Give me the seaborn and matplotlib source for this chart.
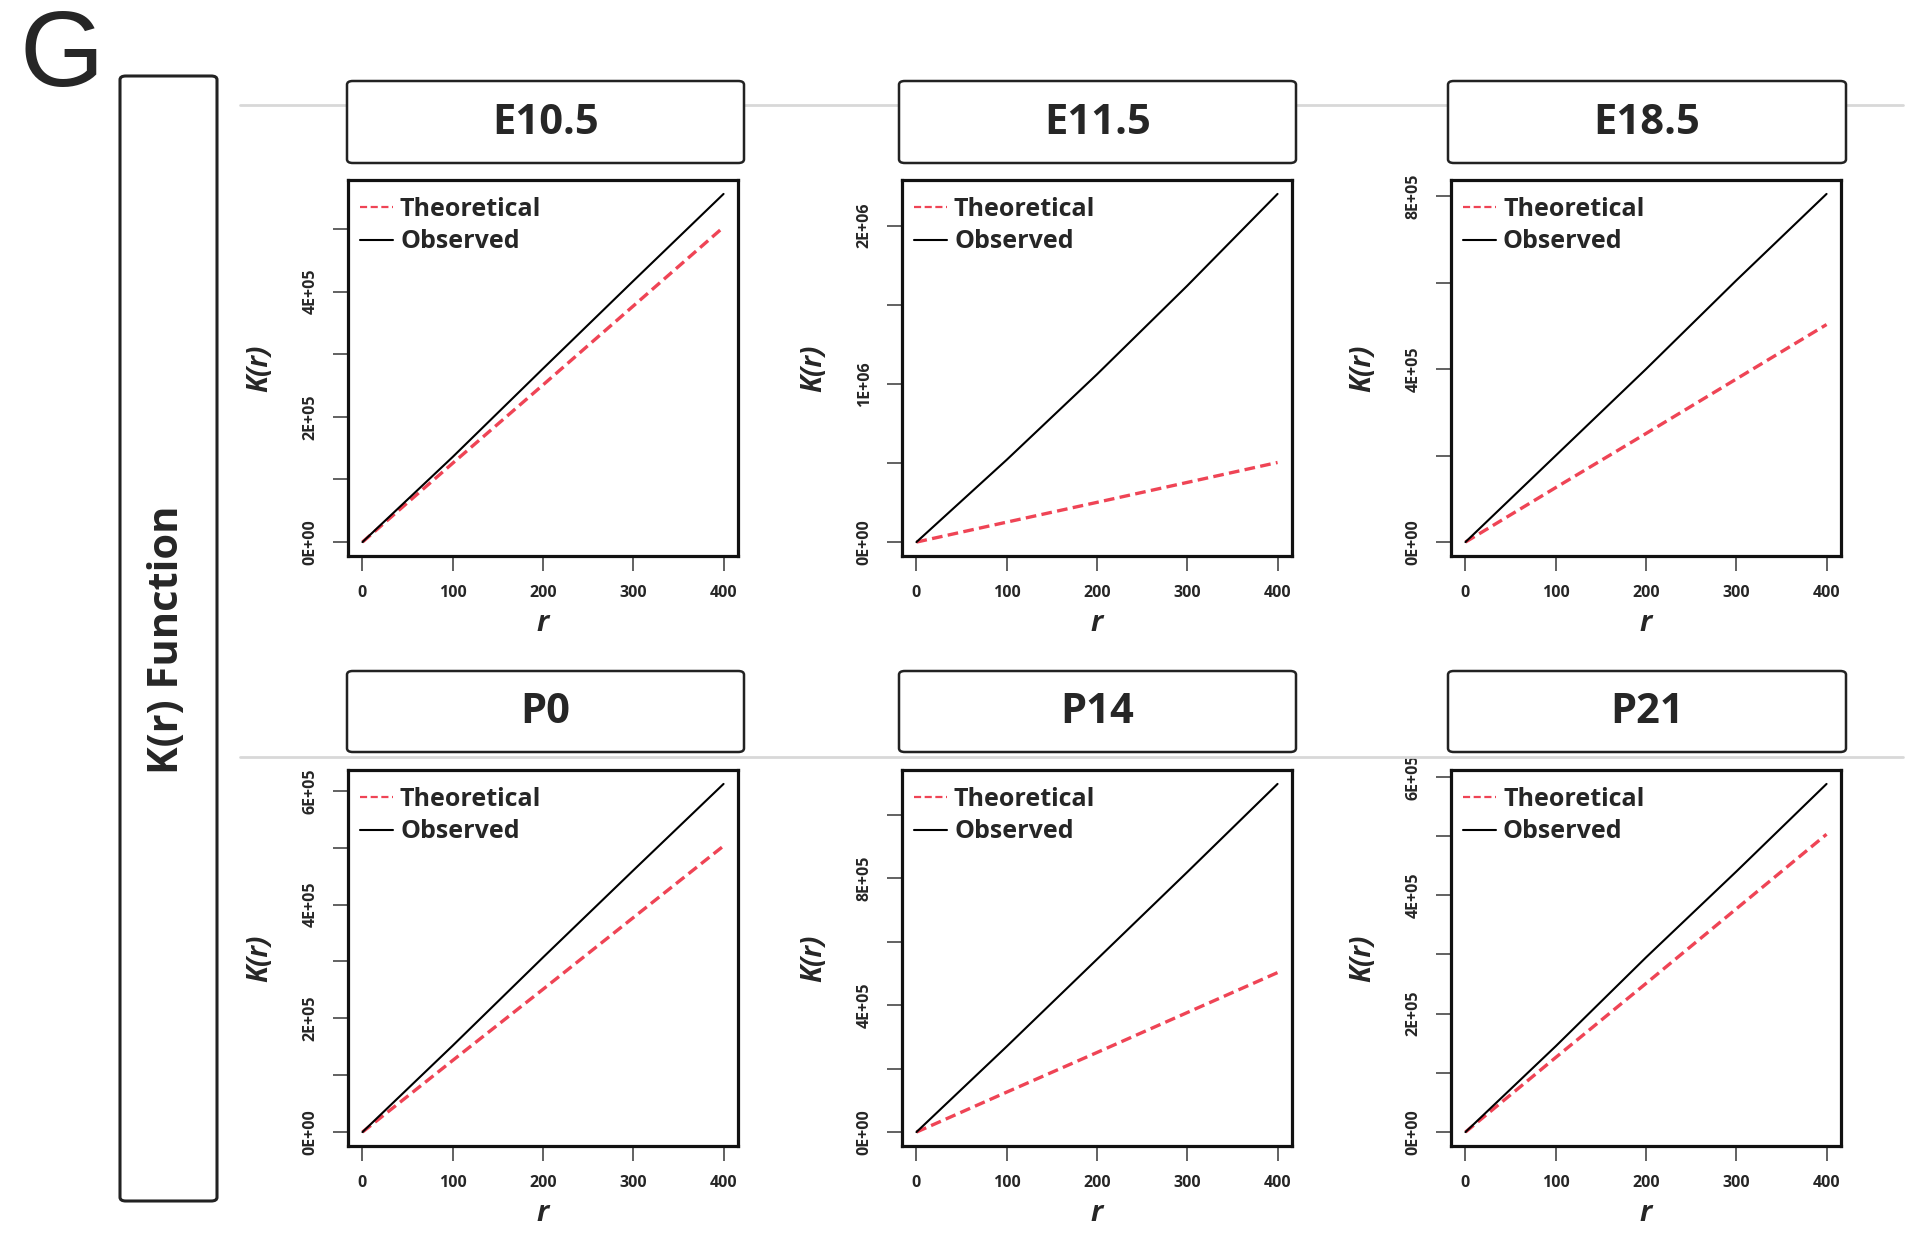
import numpy as np
import pandas as pd
import matplotlib
matplotlib.use("Agg")
import matplotlib.pyplot as plt
from matplotlib.patches import FancyBboxPatch
from matplotlib.lines import Line2D
import seaborn as sns

# data (K(r) at r = 0..400)
stages = ["E10.5", "E11.5", "E18.5", "P0", "P14", "P21"]
r_values = [0, 100, 200, 300, 400]
theoretical = [
    [0, 1.26e5, 2.51e5, 3.77e5, 5.03e5],
    [0, 1.26e5, 2.51e5, 3.77e5, 5.03e5],
    [0, 1.26e5, 2.51e5, 3.77e5, 5.03e5],
    [0, 1.26e5, 2.51e5, 3.77e5, 5.03e5],
    [0, 1.26e5, 2.51e5, 3.77e5, 5.03e5],
    [0, 1.26e5, 2.51e5, 3.77e5, 5.03e5],
]
observed = [
    [0, 1.36e5, 2.77e5, 4.17e5, 5.56e5],
    [0, 0.52e6, 1.06e6, 1.62e6, 2.20e6],
    [0, 2.00e5, 4.00e5, 6.05e5, 8.05e5],
    [0, 1.52e5, 3.07e5, 4.60e5, 6.12e5],
    [0, 2.70e5, 5.45e5, 8.20e5, 10.98e5],
    [0, 1.45e5, 2.95e5, 4.40e5, 5.88e5],
]
y_ticks = [
    [0, 1e5, 2e5, 3e5, 4e5, 5e5],
    [0, 5e5, 1e6, 1.5e6, 2e6],
    [0, 2e5, 4e5, 6e5, 8e5],
    [0, 1e5, 2e5, 3e5, 4e5, 5e5, 6e5],
    [0, 2e5, 4e5, 6e5, 8e5, 1e6],
    [0, 1e5, 2e5, 3e5, 4e5, 5e5, 6e5],
]
y_labels = [
    ["0E+00", "", "2E+05", "", "4E+05", ""],
    ["0E+00", "", "1E+06", "", "2E+06"],
    ["0E+00", "", "4E+05", "", "8E+05"],
    ["0E+00", "", "2E+05", "", "4E+05", "", "6E+05"],
    ["0E+00", "", "4E+05", "", "8E+05", ""],
    ["0E+00", "", "2E+05", "", "4E+05", "", "6E+05"],
]
x_ticks = [0, 100, 200, 300, 400]

sns.set_style("ticks")
plt.rcParams["font.family"] = ["Open Sans", "DejaVu Sans"]

W, H = 1932, 1237
fig = plt.figure(figsize=(W / 100, H / 100), dpi=100)
RED = "#ef4455"


def fx(x):
    return x / W


def fy(y):
    return 1 - y / H


def rect_box(x0, y0, x1, y1, lw, z=2):
    p = FancyBboxPatch((fx(x0), fy(y1)), fx(x1) - fx(x0), fy(y0) - fy(y1),
                       boxstyle="round,pad=0,rounding_size=0.003",
                       transform=fig.transFigure, facecolor="white",
                       edgecolor="#222222", linewidth=lw, zorder=z)
    fig.add_artist(p)


# panel letter and the side label box
fig.text(fx(62), fy(58), "G", fontsize=78, family="Liberation Sans",
         ha="center", va="center")
rect_box(120, 76, 217, 1201, 2.2)
fig.text(fx(168), fy(640), "K(r) Function", rotation=90, fontsize=30,
         fontweight="bold", ha="center", va="center", zorder=5)

# faint separators behind the strips
for gy in [105, 757]:
    fig.add_artist(Line2D([fx(240), fx(1903)], [fy(gy), fy(gy)],
                          transform=fig.transFigure, color="#d8d8d8",
                          linewidth=2, zorder=1))

col_left = [348, 902, 1451]
strip_x = [(347, 744), (899, 1296), (1448, 1846)]
row_top = [180, 770]
strip_y = [(81, 163), (671, 752)]
ax_w, ax_h = 390, 376

for i, stage in enumerate(stages):
    row, col = divmod(i, 3)
    left, top = col_left[col], row_top[row]
    ax = fig.add_axes([fx(left), fy(top + ax_h), ax_w / W, ax_h / H])

    sx0, sx1 = strip_x[col]
    sy0, sy1 = strip_y[row]
    rect_box(sx0, sy0, sx1, sy1, 1.8, z=3)
    fig.text(fx((sx0 + sx1) / 2), fy((sy0 + sy1) / 2 + 1), stage,
             fontsize=30, fontweight="bold", ha="center", va="center", zorder=4)

    df = pd.DataFrame({"r": r_values, "theo": theoretical[i], "obs": observed[i]})
    sns.lineplot(data=df, x="r", y="theo", ax=ax, color=RED, linewidth=2.4,
                 label="Theoretical")
    ax.lines[-1].set_dashes((3.2, 1.6))
    sns.lineplot(data=df, x="r", y="obs", ax=ax, color="black", linewidth=1.5,
                 label="Observed")

    ymax = max(observed[i])
    ax.set_xlim(-16, 416)
    ax.set_ylim(-0.04 * ymax, ymax * 1.04)
    ax.set_xticks(x_ticks)
    ax.set_xticklabels([str(v) for v in x_ticks])
    ax.set_yticks(y_ticks[i])
    ax.set_yticklabels(y_labels[i])
    ax.tick_params(axis="both", which="major", bottom=True, left=True,
                   direction="out", length=11, width=1.3,
                   color="#555555", labelsize=11.5, pad=10)
    ax.tick_params(axis="y", labelrotation=90)
    for lab in ax.get_yticklabels():
        lab.set_va("center")
        lab.set_fontweight("bold")
    for lab in ax.get_xticklabels():
        lab.set_fontweight("bold")
    ax.set_xlabel("")
    ax.set_ylabel("")
    ax.text(-0.226, 0.5, "K(r)", transform=ax.transAxes, rotation=90,
            fontsize=20, fontweight="bold", fontstyle="italic",
            ha="center", va="center")
    ax.text(0.5, -0.18, "r", transform=ax.transAxes, fontsize=21,
            fontweight="bold", fontstyle="italic", ha="center", va="center")
    for sp in ax.spines.values():
        sp.set_visible(True)
        sp.set_linewidth(2.3)
        sp.set_color("#111111")

    leg = ax.legend(loc="upper left", bbox_to_anchor=(12 / ax_w, 1 - 17 / ax_h),
                    frameon=False, borderaxespad=0, borderpad=0,
                    handlelength=1.3, handletextpad=0.3, labelspacing=0.3,
                    prop={"size": 18, "weight": "bold"})
    leg.get_lines()[0].set_linewidth(1.6)

fig.savefig("out.png", dpi=100, facecolor="white")
